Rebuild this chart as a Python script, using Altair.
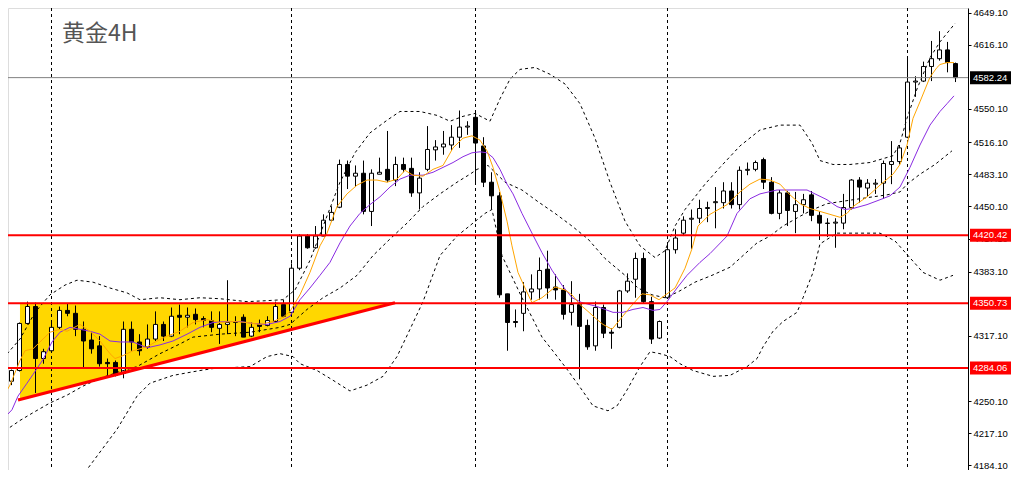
import altair as alt
import pandas as pd

TITLE = "黄金4H"

# ---------------- candles (4H) ----------------
opens = [4282.6, 4270.6, 4281.6, 4329.9, 4347.3, 4293.9, 4301.9, 4325.9, 4343.3, 4340.3,
         4323.9, 4312.9, 4306.9, 4289.9, 4289.9, 4278.6, 4323.9, 4310.9, 4305.9, 4313.9,
         4328.9, 4316.9, 4338.3, 4336.3, 4339.3, 4334.9, 4332.9, 4324.9, 4328.9, 4330.9,
         4336.3, 4316.9, 4328.9, 4327.9, 4331.9, 4349.3, 4341.3, 4386.6, 4419.6, 4407.6,
         4419.6, 4435.9, 4449.2, 4493.1, 4481.1, 4484.1, 4444.9, 4483.1, 4488.1, 4477.1,
         4493.1, 4489.1, 4463.9, 4488.1, 4508.1, 4511.1, 4513.1, 4521.1, 4531.5, 4541.5,
         4512.1, 4474.9, 4460.9, 4360.3, 4331.9, 4340.3, 4362.3, 4365.3, 4385.6, 4367.3,
         4364.3, 4341.3, 4349.3, 4327.9, 4306.9, 4346.3, 4320.9, 4325.9, 4363.3, 4375.3,
         4396.6, 4352.3, 4314.9, 4356.3, 4405.6, 4422.6, 4436.9, 4437.9, 4447.9, 4453.9,
         4453.9, 4465.9, 4451.9, 4487.1, 4488.1, 4498.1, 4474.9, 4442.9, 4463.9, 4444.9,
         4451.9, 4461.9, 4440.9, 4432.9, 4432.9, 4432.9, 4448.9, 4477.1, 4468.9, 4472.9,
         4473.9, 4493.1, 4496.1, 4521.1, 4577.7, 4578.7, 4593.7, 4601.7, 4610.7, 4596.7]
highs = [4283.6, 4282.6, 4330.9, 4352.3, 4351.3, 4303.9, 4330.9, 4347.3, 4350.3, 4348.3,
         4331.9, 4320.9, 4316.9, 4293.9, 4291.9, 4331.9, 4331.9, 4318.9, 4328.9, 4342.3,
         4331.9, 4346.3, 4349.3, 4346.3, 4345.3, 4337.3, 4342.3, 4342.3, 4374.3, 4337.3,
         4339.3, 4330.9, 4333.9, 4337.3, 4352.3, 4354.3, 4391.6, 4421.6, 4421.6, 4429.9,
         4441.9, 4450.2, 4498.1, 4497.1, 4492.1, 4497.1, 4488.1, 4500.1, 4527.5, 4501.1,
         4500.1, 4500.1, 4485.1, 4532.5, 4518.1, 4527.5, 4533.5, 4548.5, 4537.5, 4547.5,
         4521.1, 4485.1, 4464.9, 4360.3, 4344.3, 4372.3, 4380.3, 4397.6, 4404.6, 4380.3,
         4369.3, 4373.3, 4360.3, 4333.9, 4352.3, 4349.3, 4324.9, 4364.3, 4381.3, 4402.6,
         4402.6, 4357.3, 4332.9, 4412.6, 4426.6, 4439.9, 4446.9, 4456.9, 4454.9, 4469.9,
         4474.9, 4474.9, 4491.1, 4495.1, 4497.1, 4500.1, 4480.1, 4466.9, 4465.9, 4464.9,
         4462.9, 4465.9, 4444.9, 4437.9, 4437.9, 4462.9, 4478.1, 4480.1, 4478.1, 4478.1,
         4497.1, 4517.1, 4513.1, 4602.7, 4583.7, 4598.7, 4619.9, 4629.9, 4618.9, 4597.7]
lows = [4265.6, 4266.6, 4280.6, 4328.9, 4258.6, 4288.6, 4300.9, 4323.9, 4337.3, 4316.9,
        4283.6, 4298.9, 4285.6, 4275.6, 4275.6, 4273.6, 4301.9, 4296.9, 4303.9, 4311.9,
        4311.9, 4315.9, 4318.9, 4325.9, 4328.9, 4325.9, 4320.9, 4308.9, 4318.9, 4316.9,
        4315.9, 4315.9, 4320.9, 4326.9, 4330.9, 4336.3, 4339.3, 4384.6, 4406.6, 4406.6,
        4419.6, 4434.9, 4448.2, 4467.9, 4469.9, 4441.9, 4429.9, 4483.1, 4474.9, 4470.9,
        4485.1, 4459.9, 4446.9, 4486.1, 4497.1, 4503.1, 4507.1, 4510.1, 4523.5, 4472.9,
        4469.9, 4446.9, 4356.3, 4301.9, 4325.9, 4321.9, 4354.3, 4354.3, 4355.3, 4354.3,
        4333.9, 4327.9, 4272.6, 4302.9, 4301.9, 4314.9, 4303.9, 4324.9, 4361.3, 4356.3,
        4350.3, 4308.9, 4313.9, 4355.3, 4401.6, 4419.6, 4406.6, 4432.9, 4433.9, 4427.6,
        4447.9, 4447.9, 4446.9, 4482.1, 4486.1, 4467.9, 4441.9, 4436.9, 4429.9, 4422.6,
        4442.9, 4434.9, 4415.6, 4418.6, 4407.6, 4426.6, 4446.9, 4453.9, 4459.9, 4462.9,
        4457.9, 4472.9, 4493.1, 4520.1, 4562.5, 4577.7, 4578.7, 4599.7, 4587.7, 4577.7]
closes = [4270.6, 4281.6, 4329.9, 4347.3, 4293.9, 4300.9, 4325.9, 4343.3, 4340.3, 4323.9,
          4311.9, 4303.9, 4288.6, 4288.6, 4276.6, 4323.9, 4310.9, 4301.9, 4313.9, 4328.9,
          4316.9, 4337.3, 4336.3, 4338.3, 4333.9, 4332.9, 4325.9, 4328.9, 4330.9, 4331.9,
          4315.9, 4325.9, 4326.9, 4332.9, 4347.3, 4337.3, 4386.6, 4419.6, 4407.6, 4419.6,
          4435.9, 4443.9, 4493.1, 4481.1, 4484.1, 4444.9, 4484.1, 4485.1, 4477.1, 4493.1,
          4488.1, 4463.9, 4479.1, 4508.5, 4511.1, 4514.1, 4521.1, 4531.5, 4532.5, 4515.1,
          4474.9, 4460.9, 4359.3, 4330.9, 4330.9, 4362.3, 4365.3, 4384.3, 4366.3, 4364.3,
          4339.3, 4349.3, 4326.9, 4305.9, 4346.3, 4319.9, 4319.9, 4363.3, 4373.3, 4396.6,
          4352.3, 4313.9, 4331.9, 4405.6, 4417.6, 4435.9, 4437.9, 4447.9, 4448.9, 4454.9,
          4465.9, 4451.9, 4487.1, 4488.1, 4495.1, 4474.9, 4442.9, 4463.9, 4445.9, 4451.9,
          4456.9, 4440.9, 4432.9, 4432.6, 4433.9, 4448.9, 4477.1, 4469.9, 4473.9, 4473.9,
          4494.1, 4496.1, 4510.1, 4577.7, 4578.7, 4593.7, 4601.7, 4610.7, 4597.7, 4582.24]

# ---------------- indicator lines (bar index, price) ----------------
ma_fast_i = [-0.44, 0.81, 2.06, 2.69, 3.69, 5.81, 7.06, 7.94, 9.56, 10.81, 12.06, 13.31, 13.94, 14.94,
             16.19, 17.94, 19.19, 20.44, 22.06, 23.69, 25.44, 27.06, 28.69, 30.44, 32.06, 33.69, 34.94,
             35.81, 37.06, 38.31, 39.56, 40.44, 41.69, 42.94, 44.19, 45.44, 46.69, 47.94, 49.19, 50.19,
             51.19, 52.44, 53.69, 54.94, 56.19, 57.44, 58.56, 59.56, 60.44, 61.19, 62.06, 62.94, 63.56,
             64.31, 65.19, 66.06, 67.31, 68.94, 70.19, 71.06, 72.06, 73.06, 74.19, 74.94, 76.06, 77.06,
             78.31, 79.81, 80.81, 81.94, 82.94, 83.94, 85.19, 86.06, 86.81, 88.31, 90.44, 92.06, 93.31,
             94.56, 95.81, 97.06, 98.31, 99.56, 100.81, 102.06, 103.31, 104.56, 105.44, 106.19, 107.94,
             109.56, 111.19, 112.06, 112.94, 113.69, 114.56, 115.81, 116.69, 117.06, 117.94, 118.81]
ma_fast_v = [4248.3, 4266.6, 4291.9, 4301.9, 4303.9, 4320.9, 4323.9, 4321.9, 4328.9, 4321.9, 4311.9,
             4298.9, 4293.9, 4296.9, 4301.9, 4305.9, 4311.9, 4316.9, 4321.9, 4330.9, 4333.9, 4330.9,
             4331.9, 4330.9, 4328.9, 4331.9, 4336.3, 4342.3, 4359.3, 4382.3, 4409.6, 4422.6, 4449.9,
             4462.9, 4471.9, 4477.1, 4477.1, 4474.9, 4478.1, 4487.1, 4482.1, 4481.1, 4488.1, 4492.1,
             4510.1, 4520.1, 4522.5, 4518.1, 4507.1, 4490.1, 4464.9, 4434.9, 4409.6, 4382.3, 4366.3,
             4351.3, 4356.3, 4367.3, 4364.3, 4359.3, 4349.3, 4342.3, 4333.9, 4328.9, 4323.9, 4333.9,
             4346.3, 4360.3, 4359.3, 4354.3, 4360.3, 4366.3, 4386.6, 4406.6, 4429.9, 4441.9, 4451.9,
             4464.9, 4472.9, 4478.1, 4477.1, 4472.9, 4461.9, 4452.9, 4447.9, 4444.9, 4441.9, 4438.9,
             4442.9, 4449.9, 4459.9, 4471.9, 4483.1, 4493.1, 4513.1, 4540.5, 4557.5, 4582.7, 4592.7,
             4595.7, 4597.7, 4597.7]

ma_slow_i = [-0.44, 1.06, 1.81, 2.94, 3.69, 4.94, 6.06, 7.06, 8.31, 9.56, 10.81, 12.06, 13.31, 14.56,
             16.19, 17.94, 19.56, 21.19, 22.94, 24.56, 26.19, 27.94, 29.56, 31.19, 32.94, 34.56, 35.81,
             37.06, 38.31, 39.56, 40.81, 42.06, 43.31, 44.56, 45.81, 47.06, 48.31, 49.56, 50.81, 52.44,
             53.69, 54.94, 56.19, 57.44, 58.56, 59.56, 60.44, 61.19, 62.06, 62.94, 63.69, 64.81, 66.06,
             67.31, 68.56, 69.81, 71.06, 72.31, 74.19, 76.19, 77.44, 78.69, 79.94, 81.19, 82.06, 82.94,
             84.19, 85.44, 87.06, 88.31, 90.44, 91.69, 93.31, 94.56, 96.69, 98.69, 100.44, 101.69,
             102.94, 104.19, 105.19, 106.19, 107.94, 109.56, 110.81, 112.06, 113.31, 114.56, 115.81,
             117.06, 117.94, 118.81]
ma_slow_v = [4228.3, 4241.3, 4255.3, 4268.6, 4277.6, 4292.9, 4310.9, 4320.9, 4325.9, 4323.9, 4321.9,
             4318.9, 4311.9, 4310.9, 4310.9, 4304.9, 4307.9, 4311.9, 4318.9, 4325.9, 4330.9, 4331.9,
             4331.9, 4329.9, 4328.9, 4331.9, 4337.3, 4354.3, 4366.3, 4379.3, 4392.6, 4412.6, 4429.9,
             4442.9, 4451.9, 4459.9, 4469.9, 4478.1, 4482.1, 4482.1, 4485.1, 4490.1, 4495.1, 4501.1,
             4505.1, 4506.1, 4505.1, 4500.1, 4488.1, 4472.9, 4462.9, 4442.9, 4422.6, 4402.6, 4384.6,
             4369.3, 4356.3, 4351.3, 4347.3, 4341.3, 4341.3, 4344.3, 4346.3, 4343.3, 4344.3, 4352.3,
             4366.3, 4379.3, 4392.6, 4401.6, 4419.6, 4442.9, 4457.9, 4462.9, 4466.9, 4466.9, 4466.9,
             4461.9, 4456.9, 4449.9, 4446.9, 4447.9, 4451.9, 4456.9, 4460.9, 4469.9, 4490.1, 4513.1,
             4533.5, 4547.5, 4555.5, 4563.5]

bb_up_i = [-0.06, 2.06, 3.94, 5.81, 7.69, 9.19, 11.19, 13.31, 15.44, 17.06, 19.56, 22.06, 24.56, 27.06,
           30.44, 32.94, 34.94, 36.44, 38.31, 40.19, 42.06, 43.94, 45.81, 47.94, 49.56, 52.06, 54.19,
           55.81, 57.44, 58.94, 60.81, 62.06, 63.31, 64.56, 66.44, 68.31, 70.19, 72.06, 73.94, 75.81,
           77.69, 79.56, 81.44, 82.69, 83.94, 85.19, 86.44, 87.69, 89.56, 92.06, 94.56, 97.06, 99.56,
           101.06, 102.06, 103.69, 105.81, 108.31, 111.19, 112.06, 112.94, 114.19, 115.81, 117.06, 118.94]
bb_up_v = [4293.9, 4313.9, 4341.3, 4359.3, 4369.3, 4374.3, 4372.3, 4366.3, 4361.3, 4354.3, 4356.3,
           4354.3, 4356.3, 4355.3, 4352.3, 4353.3, 4354.3, 4364.3, 4394.6, 4434.9, 4474.9, 4505.1,
           4525.5, 4538.5, 4547.5, 4547.5, 4543.5, 4537.5, 4542.5, 4545.5, 4537.5, 4560.5, 4580.7,
           4590.7, 4592.7, 4585.7, 4575.7, 4555.5, 4520.1, 4474.9, 4434.9, 4409.6, 4397.6, 4404.6,
           4429.9, 4446.9, 4459.9, 4472.9, 4490.1, 4512.1, 4528.5, 4533.5, 4533.5, 4515.1, 4497.1,
           4493.1, 4493.1, 4495.1, 4502.1, 4515.1, 4540.5, 4570.7, 4602.7, 4618.9, 4637.9]

bb_mid_i = [-0.44, 2.06, 3.69, 5.81, 7.94, 9.94, 12.06, 14.56, 16.69, 19.56, 22.06, 23.69, 27.06, 30.81,
            34.56, 35.81, 37.94, 39.94, 42.06, 44.19, 46.19, 48.31, 50.44, 52.44, 54.56, 56.69, 58.31,
            59.19, 60.56, 62.69, 64.81, 66.81, 68.94, 71.06, 73.06, 75.19, 77.69, 79.31, 81.06, 82.69,
            84.31, 86.44, 88.56, 90.81, 92.44, 94.19, 95.81, 97.44, 99.56, 101.19, 102.94, 104.56,
            106.19, 108.69, 110.44, 112.06, 112.94, 114.56, 116.44, 118.56]
bb_mid_v = [4216.3, 4230.3, 4238.3, 4248.3, 4256.3, 4265.6, 4273.6, 4280.6, 4285.6, 4298.9, 4308.9,
            4315.9, 4318.9, 4320.9, 4325.9, 4328.9, 4344.3, 4356.3, 4366.3, 4379.3, 4399.6, 4416.6,
            4432.9, 4449.9, 4462.9, 4474.9, 4483.1, 4488.1, 4492.1, 4474.9, 4466.9, 4454.9, 4442.9,
            4429.9, 4416.6, 4396.6, 4379.3, 4366.3, 4359.3, 4356.3, 4362.3, 4372.3, 4379.3, 4387.6,
            4399.6, 4412.6, 4419.6, 4429.9, 4439.9, 4446.9, 4452.9, 4454.9, 4456.9, 4459.9, 4461.9,
            4464.9, 4472.9, 4483.1, 4493.1, 4507.1]

bb_lo_i = [8.31, 10.44, 14.19, 16.69, 18.31, 21.19, 24.56, 26.19, 30.81, 32.94, 34.56, 36.19, 37.06,
           39.19, 41.19, 43.31, 45.44, 47.44, 49.19, 50.81, 52.44, 54.56, 56.69, 58.69, 60.19, 61.06,
           62.31, 63.06, 64.81, 66.06, 67.31, 68.94, 70.56, 72.31, 73.69, 75.56, 76.69, 77.94, 79.56,
           80.81, 82.06, 83.31, 84.56, 86.19, 88.69, 90.81, 92.94, 94.19, 94.94, 96.19, 97.44, 99.19,
           99.94, 101.19, 102.06, 104.19, 105.44, 107.06, 109.56, 111.44, 113.06, 114.94, 117.06, 118.69]
bb_lo_v = [4157.7, 4180.0, 4221.3, 4255.3, 4268.6, 4276.6, 4281.6, 4283.6, 4285.6, 4295.9, 4298.9,
           4295.9, 4288.6, 4281.6, 4271.6, 4260.6, 4266.6, 4275.6, 4295.9, 4323.9, 4352.3, 4399.6,
           4419.6, 4432.9, 4442.9, 4446.9, 4399.6, 4386.6, 4356.3, 4336.3, 4315.9, 4298.9, 4281.6,
           4261.6, 4245.3, 4240.3, 4245.3, 4261.6, 4285.6, 4300.9, 4298.9, 4295.9, 4288.6, 4281.6,
           4275.6, 4276.6, 4285.6, 4293.9, 4305.9, 4321.9, 4331.9, 4341.3, 4356.3, 4382.3, 4411.6,
           4422.6, 4422.6, 4422.6, 4422.6, 4414.6, 4399.6, 4382.3, 4374.3, 4379.3]

# ---------------- annotations ----------------
levels = [4420.42, 4350.73, 4284.06]
last_price = 4582.24
separators = [6, 36, 59, 83, 113]
tri_i = [2.06, 48.94]
tri_top = [4351.2, 4351.2]
tri_bottom = [4252.3, 4351.2]
trend_i = [1.81, 48.94]
trend_v = [4251.3, 4351.2]
tick_values = [4649.1, 4616.1, 4550.1, 4516.1, 4483.1, 4450.1, 4417.1, 4383.1,
               4317.1, 4250.1, 4217.1, 4184.1]

W, H = 960, 462
xs = alt.Scale(domain=[0.5625, 120.5625], nice=False, zero=False, padding=0)
ys = alt.Scale(domain=[4179.48, 4653.72], nice=False, zero=False, padding=0)
yaxis = alt.Axis(orient="right", values=tick_values, format=".2f", grid=False,
                 domainColor="black", tickColor="black", tickSize=3, labelPadding=2,
                 labelFont="Liberation Sans", labelFontSize=9.5, labelColor="black",
                 title=None, labelOverlap=False, labelBound=False, labelFlush=False)

def X(f="i"):
    return alt.X(f"{f}:Q", scale=xs, axis=None)

def Y(f="v"):
    return alt.Y(f"{f}:Q", scale=ys, axis=yaxis)

candles = pd.DataFrame({"i": list(range(len(opens))), "o": opens, "h": highs,
                        "l": lows, "c": closes})
candles["dir"] = ["up" if c >= o else "down" for o, c in zip(opens, closes)]

tri = pd.DataFrame({"i": tri_i, "v": tri_top, "v2": tri_bottom})
trend = pd.DataFrame({"i": trend_i, "v": trend_v})

area = alt.Chart(tri).mark_area(color="#FFD700", opacity=1, interpolate="linear").encode(
    x=X(), y=Y(), y2="v2:Q")

vlines = alt.Chart(pd.DataFrame({"i": separators})).mark_rule(
    color="black", strokeWidth=1, strokeDash=[3, 3]).encode(x=X())

wicks = alt.Chart(candles).mark_rule(color="black", strokeWidth=1).encode(
    x=X(), y=Y("l"), y2="h:Q")
bodies = alt.Chart(candles).mark_bar(size=4, stroke="black", strokeWidth=1).encode(
    x=X(), y=Y("o"), y2="c:Q",
    fill=alt.Fill("dir:N", scale=alt.Scale(domain=["up", "down"], range=["white", "black"]),
                  legend=None))

def line_layer(ii, vv, color, dash=None):
    df = pd.DataFrame({"i": ii, "v": vv})
    kw = dict(color=color, strokeWidth=1, clip=True)
    if dash:
        kw["strokeDash"] = dash
    return alt.Chart(df).mark_line(**kw).encode(x=X(), y=Y())

bb_up = line_layer(bb_up_i, bb_up_v, "black", [3, 3])
bb_mid = line_layer(bb_mid_i, bb_mid_v, "black", [3, 3])
bb_lo = line_layer(bb_lo_i, bb_lo_v, "black", [3, 3])
ma_slow = line_layer(ma_slow_i, ma_slow_v, "#8A2BE2")
ma_fast = line_layer(ma_fast_i, ma_fast_v, "#FFA500")

hl = alt.Chart(pd.DataFrame({"v": levels})).mark_rule(color="#FF0000", strokeWidth=2).encode(y=Y())
trend_line = alt.Chart(trend).mark_line(color="#FF0000", strokeWidth=3).encode(x=X(), y=Y())
price_line = alt.Chart(pd.DataFrame({"v": [last_price]})).mark_rule(
    color="#808080", strokeWidth=1).encode(y=Y())

boxes = pd.DataFrame({"v": [last_price] + levels,
                      "label": [f"{v:.2f}" for v in [last_price] + levels],
                      "bg": ["black", "#FF0000", "#FF0000", "#FF0000"]})
box_bg = alt.Chart(boxes).mark_rule(strokeWidth=13, strokeCap="butt", clip=False).encode(
    x=alt.value(W + 2), x2=alt.value(W + 43), y=Y(), color=alt.Color("bg:N", scale=None))
box_txt = alt.Chart(boxes).mark_text(align="left", baseline="middle", font="Liberation Sans",
                                     fontSize=9.5, color="white", clip=False).encode(
    x=alt.value(W + 5), y=Y(), text="label:N")

title = alt.Chart(pd.DataFrame({"t": [TITLE]})).mark_text(
    align="left", baseline="middle", font="Noto Sans CJK SC", fontSize=23,
    color="#555555").encode(x=alt.value(54), y=alt.value(26), text="t:N")

chart = alt.layer(area, vlines, wicks, bodies, bb_up, bb_mid, bb_lo, ma_slow, ma_fast,
                  hl, trend_line, price_line, box_bg, box_txt, title).properties(
    width=W, height=H,
    autosize=alt.AutoSizeParams(type="none"),
    padding={"left": 0, "top": 0, "right": 46, "bottom": 0},
).configure_view(stroke=None).configure(background="white")

chart.save("out.html", embed_options={"renderer": "svg", "actions": False})
